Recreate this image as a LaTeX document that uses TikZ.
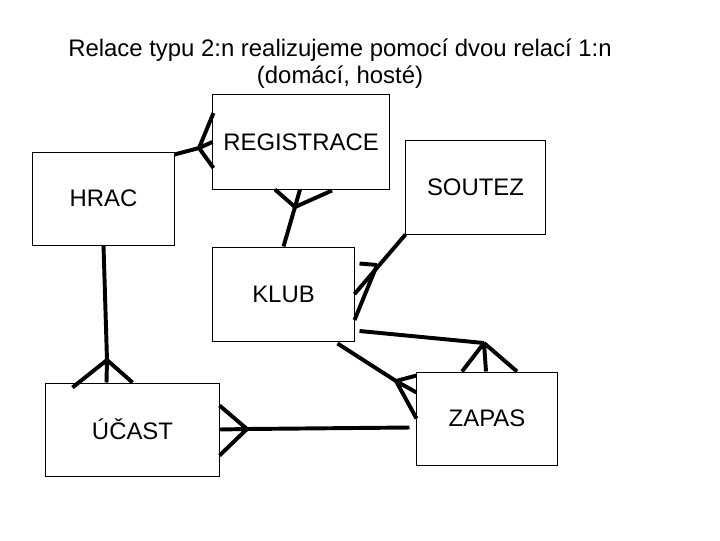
\documentclass[tikz,border=0pt]{standalone}
\usepackage{fontspec}
\setmainfont{Liberation Sans}
\usetikzlibrary{calc}

\begin{document}
\begin{tikzpicture}[
    x=0.025cm, y=-0.025cm,
    entity/.style={rectangle, draw, line width=0.7pt, inner sep=0pt, font=\fontsize{17}{20}\selectfont},
    rel/.style={line width=2.8pt},
]
\useasboundingbox (0,0) rectangle (720,540);

% Title
\node[align=center, inner sep=0pt, font=\fontsize{17}{19.2}\selectfont] (title) at (340,64) {Relace typu 2:n realizujeme pomocí dvou relací 1:n\\(domácí, hosté)};

% Entities
\node[entity, minimum width=4.4cm, minimum height=2.35cm] (registrace) at (301,142) {REGISTRACE};
\node[entity, minimum width=3.525cm, minimum height=2.325cm] (hrac) at (103.5,198.5) {HRAC};
\node[entity, minimum width=3.475cm, minimum height=2.35cm] (soutez) at (475.5,187) {SOUTEZ};
\node[entity, minimum width=3.525cm, minimum height=2.35cm] (klub) at (283.5,294) {KLUB};
\node[entity, minimum width=4.325cm, minimum height=2.325cm] (ucast) at (132.5,429.5) {ÚČAST};
\node[entity, minimum width=3.5cm, minimum height=2.325cm] (zapas) at (487,418.5) {ZAPAS};

% HRAC - REGISTRACE
\coordinate (fReg1) at (199,148);
\draw[rel] ($(hrac.north east)+(0,3)$) -- (fReg1);
\draw[rel] (fReg1) -- ($(registrace.west)+(1,-29)$) (fReg1) -- (registrace.west) (fReg1) -- ($(registrace.west)+(1,26)$);

% KLUB - REGISTRACE
\coordinate (fReg2) at (295,207);
\draw[rel] (klub.north) -- (fReg2);
\draw[rel] (fReg2) -- ($(registrace.south)+(-26,0)$) (fReg2) -- ($(registrace.south)+(-1,0)$) (fReg2) -- ($(registrace.south)+(31,1)$);

% SOUTEZ - KLUB
\coordinate (fKlub) at (377,265);
\draw[rel] (soutez.south west) -- (klub.east);
\draw[rel] (fKlub) -- ($(klub.north east)+(5,17)$) (fKlub) -- ($(klub.east)+(0,26)$);

% KLUB - ZAPAS (domaci)
\coordinate (fZap1) at (484,343);
\draw[rel] ($(klub.east)+(5,37)$) -- (fZap1);
\draw[rel] (fZap1) -- ($(zapas.north)+(-25,0)$) (fZap1) -- ($(zapas.north)+(-1,0)$) (fZap1) -- ($(zapas.north)+(30,0)$);

% KLUB - ZAPAS (hoste)
\coordinate (fZap2) at (396,381);
\draw[rel] ($(klub.south east)+(-17,2)$) -- (fZap2);
\draw[rel] (fZap2) -- ($(zapas.north west)+(0,4)$) (fZap2) -- ($(zapas.north west)+(0,21)$) (fZap2) -- (zapas.west);

% ZAPAS - UCAST
\coordinate (fUc1) at (247,429);
\draw[rel] ($(zapas.west)+(-7,9)$) -- (fUc1);
\draw[rel] (fUc1) -- ($(ucast.east)+(0,-24)$) (fUc1) -- (ucast.east) (fUc1) -- ($(ucast.east)+(0,26)$);

% HRAC - UCAST
\coordinate (fUc2) at (107,360);
\draw[rel] (hrac.south) -- (fUc2);
\draw[rel] (fUc2) -- ($(ucast.north west)+(27,5)$) (fUc2) -- ($(ucast.north west)+(61,0)$) (fUc2) -- (ucast.north);

\end{tikzpicture}
\end{document}
